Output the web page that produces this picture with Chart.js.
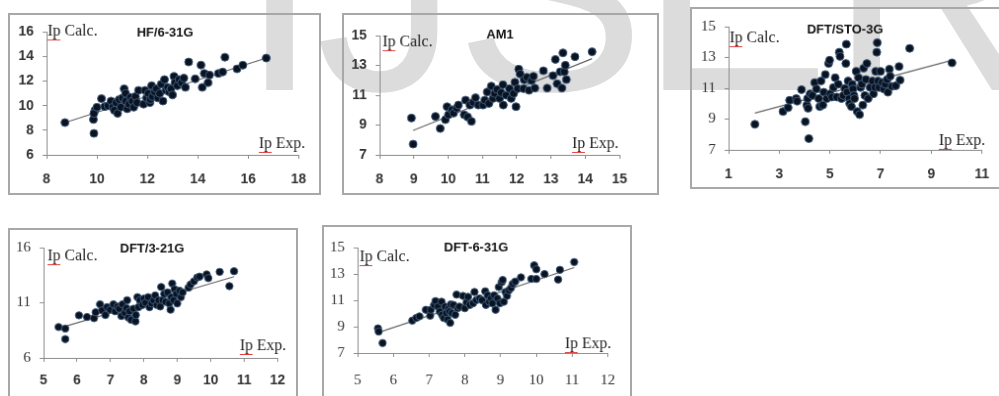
<!DOCTYPE html>
<html>
<head>
<meta charset="utf-8">
<script src="https://cdn.jsdelivr.net/npm/chart.js@4.4.1/dist/chart.umd.min.js"></script>
<style>
  html, body { margin: 0; padding: 0; background: #fff; }
  #page { position: relative; width: 999px; height: 396px; overflow: hidden; }
  canvas { position: absolute; }
  .panel { border: 2px solid #a8a8a8; }
</style>
</head>
<body>
<div id="page">
  <canvas id="mark" width="999" height="396" style="left:0;top:0"></canvas>
  <canvas id="c1" class="panel"></canvas>
  <canvas id="c2" class="panel"></canvas>
  <canvas id="c3" class="panel"></canvas>
  <canvas id="c4" class="panel"></canvas>
  <canvas id="c5" class="panel"></canvas>
</div>
<script>
// --- data: Ip Exp. (x) vs Ip Calc. (y) ---
const titles = ['HF/6-31G', 'AM1', 'DFT/STO-3G', 'DFT/3-21G', 'DFT-6-31G'];
const yLabel = 'Ip Calc.';
const xLabel = 'Ip Exp.';
const watermark = ['I', 'J', 'S', 'E', 'R'];

const hfX = [8.73, 9.86, 9.88, 9.92, 9.88, 10.0, 10.18, 10.31, 10.44, 10.56, 10.63, 10.69, 10.76, 10.82, 10.88, 10.95, 11.01, 11.08, 11.14, 11.14,
  11.2, 11.27, 11.33, 11.4, 11.46, 11.53, 11.59, 11.65, 11.85, 11.91, 11.97, 12.04, 12.1, 12.12, 12.17, 12.2, 12.29, 12.36, 12.42, 12.49,
  12.55, 12.62, 12.68, 12.74, 12.81, 12.87, 12.94, 13.0, 13.06, 13.1, 13.19, 13.26, 13.36, 13.45, 13.51, 13.64, 13.9, 14.13, 14.18, 14.26,
  14.41, 14.47, 14.82, 14.99, 15.08, 15.56, 15.79, 16.72];
const hfY = [8.63, 8.88, 7.75, 9.63, 9.38, 9.88, 10.58, 9.93, 10.0, 10.38, 9.88, 9.63, 10.25, 9.38, 10.5, 9.88, 10.63, 11.38, 10.38, 11.0,
  9.75, 10.13, 10.68, 10.38, 9.88, 10.75, 10.25, 11.25, 10.13, 11.25, 10.63, 11.0, 10.25, 10.5, 11.63, 10.75, 11.13, 11.38, 10.63, 11.0,
  11.75, 10.38, 12.13, 11.25, 11.5, 11.13, 11.38, 10.88, 12.38, 11.88, 11.63, 12.13, 11.88, 12.25, 11.5, 13.56, 12.19, 13.31, 11.5, 12.63,
  11.88, 12.5, 12.63, 12.75, 13.95, 13.0, 13.3, 13.88];

const am1X = [8.93, 8.98, 9.63, 9.77, 9.92, 9.97, 10.01, 10.11, 10.16, 10.25, 10.3, 10.47, 10.51, 10.57, 10.64, 10.68, 10.73, 10.8, 10.88, 11.02,
  11.07, 11.14, 11.19, 11.26, 11.31, 11.36, 11.43, 11.5, 11.55, 11.6, 11.61, 11.69, 11.79, 11.84, 11.91, 11.95, 11.98, 12.03, 12.06, 12.1,
  12.2, 12.22, 12.3, 12.36, 12.43, 12.49, 12.53, 12.78, 12.89, 13.06, 13.13, 13.18, 13.27, 13.32, 13.35, 13.39, 13.42, 13.45, 13.7, 14.2];
const am1Y = [9.47, 7.72, 9.58, 8.77, 9.36, 10.23, 9.69, 10.02, 9.8, 10.13, 10.34, 9.69, 10.67, 9.54, 10.34, 9.25, 10.52, 10.83, 10.34, 10.34,
  10.67, 11.22, 10.45, 11.61, 10.78, 11.11, 11.39, 10.78, 11.17, 11.7, 10.34, 11.0, 11.44, 10.78, 11.11, 11.87, 10.23, 11.44, 12.75, 12.42,
  11.44, 12.03, 12.2, 11.33, 11.98, 12.27, 11.48, 12.64, 11.48, 12.31, 13.4, 11.77, 12.57, 11.48, 13.84, 12.57, 13.01, 12.05, 13.58, 13.91];

const stoX = [2.04, 3.15, 3.35, 3.41, 3.67, 3.71, 3.88, 4.03, 4.09, 4.12, 4.14, 4.17, 4.22, 4.31, 4.4, 4.47, 4.56, 4.6, 4.65, 4.72,
  4.76, 4.82, 4.88, 4.95, 4.99, 5.01, 5.08, 5.14, 5.21, 5.27, 5.33, 5.37, 5.4, 5.46, 5.53, 5.59, 5.63, 5.65, 5.68, 5.72,
  5.76, 5.78, 5.85, 5.88, 5.91, 5.95, 5.97, 6.04, 6.08, 6.13, 6.17, 6.21, 6.26, 6.3, 6.33, 6.38, 6.42, 6.46, 6.51, 6.59,
  6.68, 6.72, 6.78, 6.81, 6.85, 6.87, 6.9, 6.94, 7.0, 7.06, 7.13, 7.19, 7.26, 7.29, 7.35, 7.38, 7.45, 7.6, 7.73, 7.77,
  8.15, 9.82];
const stoY = [8.66, 9.49, 9.74, 10.22, 10.33, 10.16, 10.91, 8.83, 9.91, 10.33, 9.7, 7.73, 10.64, 10.53, 11.37, 10.95, 10.33, 9.81, 11.47, 9.91,
  10.74, 11.89, 10.33, 12.61, 12.82, 10.64, 10.43, 11.05, 11.68, 10.43, 11.26, 13.34, 13.07, 10.33, 10.53, 10.99, 12.61, 13.86, 10.74, 11.47,
  10.33, 10.01, 9.81, 11.26, 10.95, 10.53, 10.33, 12.09, 9.49, 11.68, 9.29, 11.05, 11.26, 9.91, 12.3, 10.53, 11.57, 12.61, 10.33, 11.05,
  11.47, 10.64, 11.05, 12.09, 13.34, 13.96, 11.47, 11.05, 12.09, 11.37, 10.95, 11.26, 11.57, 10.74, 12.24, 11.78, 11.12, 11.16, 12.41, 11.53,
  13.59, 12.65];

const g321X = [5.45, 5.65, 5.65, 6.06, 6.3, 6.51, 6.56, 6.69, 6.75, 6.85, 6.9, 6.99, 7.09, 7.14, 7.21, 7.26, 7.33, 7.36, 7.43, 7.48,
  7.5, 7.54, 7.57, 7.62, 7.69, 7.75, 7.76, 7.81, 7.84, 7.88, 7.96, 8.0, 8.05, 8.13, 8.17, 8.23, 8.29, 8.34, 8.39, 8.44,
  8.49, 8.52, 8.56, 8.61, 8.65, 8.71, 8.76, 8.8, 8.82, 8.85, 8.89, 8.92, 8.97, 9.0, 9.07, 9.11, 9.16, 9.34, 9.4, 9.5,
  9.6, 9.67, 9.88, 9.93, 10.27, 10.56, 10.7];
const g321Y = [8.8, 8.66, 7.71, 9.86, 9.71, 9.6, 10.14, 10.86, 10.31, 9.89, 10.6, 10.37, 10.86, 10.23, 10.66, 10.46, 9.8, 10.86, 10.09, 10.51,
  11.23, 9.66, 10.23, 9.46, 10.46, 9.31, 9.89, 11.51, 10.6, 11.23, 10.8, 11.37, 11.0, 11.51, 10.6, 10.94, 11.23, 11.66, 10.8, 11.23,
  10.66, 12.43, 11.23, 11.8, 11.09, 11.94, 10.94, 10.37, 11.51, 12.74, 11.23, 12.23, 11.8, 10.94, 12.09, 11.51, 11.94, 12.37, 12.66, 12.94,
  13.29, 13.37, 13.57, 13.23, 13.8, 12.51, 13.86];

const g631X = [5.57, 5.59, 5.7, 6.53, 6.64, 6.73, 6.91, 7.03, 7.05, 7.14, 7.18, 7.25, 7.3, 7.35, 7.36, 7.41, 7.45, 7.48, 7.52, 7.55,
  7.57, 7.59, 7.61, 7.64, 7.68, 7.73, 7.77, 7.8, 7.85, 7.95, 8.0, 8.05, 8.09, 8.14, 8.23, 8.27, 8.32, 8.41, 8.48, 8.57,
  8.59, 8.64, 8.68, 8.73, 8.77, 8.82, 8.86, 8.91, 8.95, 8.98, 9.03, 9.06, 9.09, 9.14, 9.18, 9.23, 9.29, 9.34, 9.41, 9.57,
  9.86, 9.94, 10.0, 10.0, 10.23, 10.61, 10.66, 11.06];
const g631Y = [8.87, 8.63, 7.76, 9.46, 9.66, 9.78, 10.28, 9.83, 10.28, 10.65, 10.94, 10.52, 10.15, 10.89, 9.9, 9.66, 10.52, 10.03, 9.54, 10.4,
  10.15, 9.29, 10.69, 10.03, 10.65, 9.9, 11.43, 10.4, 10.52, 11.33, 10.4, 10.84, 11.26, 10.65, 10.77, 11.63, 11.01, 11.14, 11.01, 11.68,
  10.65, 11.38, 10.89, 11.14, 10.77, 11.38, 10.28, 11.14, 12.0, 10.77, 12.37, 12.54, 10.89, 11.63, 11.33, 11.75, 11.93, 12.25, 12.42, 12.74,
  12.62, 13.65, 13.35, 12.62, 12.99, 12.57, 13.31, 13.9];

// trend line end points as drawn in the picture
const hfTrend = [[8.73, 8.63], [16.72, 13.88]];
const am1Trend = [[8.98, 8.64], [14.2, 13.45]];
const stoTrend = [[2.04, 9.39], [9.82, 12.82]];
const g321Trend = [[5.65, 8.86], [10.7, 13.37]];
const g631Trend = [[5.57, 8.55], [11.06, 13.48]];

// axis ranges: [min, max, step]
const xTicks = [[8, 18, 2], [8, 15, 1], [1, 11, 2], [5, 12, 1], [5, 12, 1]];
const yTicks = [[6, 16, 2], [7, 15, 2], [7, 15, 2], [6, 16, 5], [7, 15, 2]];

// --- layout (page pixels) ---
const SANS = '"Liberation Sans", Arial, sans-serif';
const SERIF = '"Liberation Serif", "Times New Roman", serif';
const panels = [
  { id: 'c1', xs: hfX, ys: hfY, trend: hfTrend, frame: [8, 13, 325, 199], area: [47, 307, 25, 158], xPad: 13,
    calc: [48, 36], exp: [262, 151], title: [167, 33], r: 4, yFont: SANS, yBold: true, xFont: SANS, xBold: true },
  { id: 'c2', xs: am1X, ys: am1Y, trend: am1Trend, frame: [342, 13, 663, 199], area: [380, 623, 36, 158], xPad: 13,
    calc: [383, 47], exp: [575, 151], title: [502, 35], r: 4, yFont: SANS, yBold: true, xFont: SANS, xBold: true },
  { id: 'c3', xs: stoX, ys: stoY, trend: stoTrend, frame: [690, 7, 1008, 193], area: [729, 989, 25, 153], xPad: 13,
    calc: [730, 43], exp: [942, 148], title: [847, 30], r: 4, yFont: SERIF, yBold: false, xFont: SANS, xBold: true },
  { id: 'c4', xs: g321X, ys: g321Y, trend: g321Trend, frame: [8, 228, 302, 402], area: [44, 287, 244, 361], xPad: 11,
    calc: [48, 261], exp: [243, 353], title: [154, 249], r: 3.7, yFont: SERIF, yBold: false, xFont: SANS, xBold: true },
  { id: 'c5', xs: g631X, ys: g631Y, trend: g631Trend, frame: [322, 225, 636, 402], area: [358, 615, 248, 356], xPad: 15,
    calc: [360, 262], exp: [568, 351], title: [478, 248], r: 3.7, yFont: SERIF, yBold: false, xFont: SERIF, xBold: false }
];

// watermark behind the panels
(function () {
  const ctx = document.getElementById('mark').getContext('2d');
  ctx.fillStyle = '#dcdcdc';
  ctx.font = '285px ' + SANS;
  ctx.textBaseline = 'alphabetic';
  const xs = [240, 316, 455, 640, 830];
  watermark.forEach((ch, i) => ctx.fillText(ch, xs[i], 90));
})();

function makePanel(p, idx) {
  const cv = document.getElementById(p.id);
  const [l, t, r, b] = p.frame;
  const ox = l + 2, oy = t + 2;
  const w = r - l - 4, h = b - t - 4;
  cv.style.left = l + 'px';
  cv.style.top = t + 'px';
  cv.width = w;
  cv.height = h;
  const left = p.area[0] - ox, right = p.area[1] - ox;
  const top = p.area[2] - oy, bottom = p.area[3] - oy;

  const labels = {
    id: 'labels' + idx,
    afterDraw(chart) {
      const ctx = chart.ctx;
      ctx.save();
      ctx.fillStyle = '#1e1e1e';
      ctx.font = '16px ' + SERIF;
      ctx.textBaseline = 'alphabetic';
      ctx.textAlign = 'left';
      [[yLabel, p.calc], [xLabel, p.exp]].forEach(([txt, pos]) => {
        const x = pos[0] - ox, y = pos[1] - oy;
        ctx.fillText(txt, x, y);
        ctx.strokeStyle = '#e04040';
        ctx.lineWidth = 1;
        ctx.beginPath();
        ctx.moveTo(x, y + 4.5);
        ctx.lineTo(x + 13, y + 4.5);
        ctx.stroke();
      });
      ctx.font = 'bold 13px ' + SANS;
      ctx.textAlign = 'center';
      ctx.textBaseline = 'middle';
      ctx.fillStyle = '#111';
      ctx.fillText(titles[idx], p.title[0] - ox, p.title[1] - oy);
      ctx.restore();
    }
  };

  const axisColor = '#8c8c8c';
  new Chart(cv, {
    type: 'scatter',
    data: {
      datasets: [
        {
          data: p.xs.map((x, i) => ({ x: x, y: p.ys[i] })),
          pointRadius: p.r,
          backgroundColor: '#0b1220',
          borderColor: '#3a5a7a',
          borderWidth: 1,
          order: 0
        },
        {
          type: 'line',
          data: p.trend.map(d => ({ x: d[0], y: d[1] })),
          borderColor: '#666',
          borderWidth: 1.2,
          pointRadius: 0,
          fill: false,
          order: 1
        }
      ]
    },
    options: {
      responsive: false,
      animation: false,
      events: [],
      layout: { padding: { left: 0, top: top, right: w - right, bottom: 0 } },
      plugins: { legend: { display: false }, tooltip: { enabled: false } },
      scales: {
        x: {
          type: 'linear',
          min: xTicks[idx][0], max: xTicks[idx][1],
          ticks: {
            stepSize: xTicks[idx][2], autoSkip: false, maxRotation: 0, padding: p.xPad,
            color: '#333', font: { family: p.xFont, size: p.xBold ? 14 : 15, weight: p.xBold ? 'bold' : 'normal' }
          },
          grid: { display: true, drawOnChartArea: false, tickLength: 4, color: axisColor },
          border: { display: true, color: axisColor, width: 1 },
          afterFit(s) { s.height = h - bottom; }
        },
        y: {
          type: 'linear',
          min: yTicks[idx][0], max: yTicks[idx][1],
          ticks: {
            stepSize: yTicks[idx][2], autoSkip: false, padding: 9,
            color: '#333', font: { family: p.yFont, size: p.yBold ? 14 : 15, weight: p.yBold ? 'bold' : 'normal' }
          },
          grid: { display: true, drawOnChartArea: false, tickLength: 4, color: axisColor },
          border: { display: true, color: axisColor, width: 1 },
          afterFit(s) { s.width = left; }
        }
      }
    },
    plugins: [labels]
  });
}

panels.forEach(makePanel);
</script>
</body>
</html>
